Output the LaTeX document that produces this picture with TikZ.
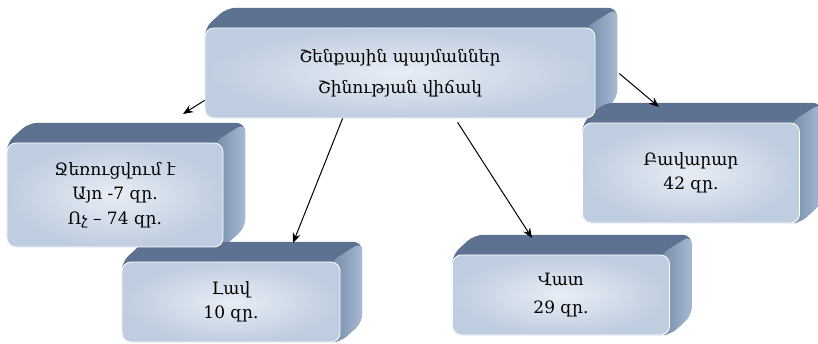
\documentclass[tikz,border=0pt]{standalone}
\usepackage{fontspec}
\setmainfont{DejaVu Serif}
\usetikzlibrary{calc,arrows.meta}
\definecolor{bevtop}{HTML}{5D7190}
\definecolor{bevsideA}{HTML}{7189A9}
\definecolor{bevsideB}{HTML}{A7BAD2}
\definecolor{faceedge}{HTML}{BFCDE0}
\definecolor{facemid}{HTML}{E8EDF5}
\tikzset{
  face/.style={rounded corners=9pt, draw=white, line width=0.8pt,
    inner color=facemid, outer color=faceedge, align=center,
    font=\fontsize{17}{24.5}\selectfont, text=black, inner sep=0pt},
  conn/.style={-{Stealth[length=10pt,width=8pt]}, line width=1pt, black},
}
\newcommand\boxbevel[1]{%
  \fill[bevtop, rounded corners=9pt] (#1.south west) -- (#1.north west) --
    ($(#1.north west)+(22,-20)$) -- ($(#1.north east)+(22,-20)$) --
    ($(#1.south east)+(22,-20)$) -- (#1.south east) -- cycle;
  \shade[left color=bevsideA, right color=bevsideB, rounded corners=9pt]
    ($(#1.north east)+(-10,0)$) -- ($(#1.north east)+(22,-20)$) --
    ($(#1.south east)+(22,-20)$) -- (#1.south east) -- ($(#1.south east)+(-10,0)$) -- cycle;
}
\begin{document}
\begin{tikzpicture}[x=1pt,y=-1pt]
\useasboundingbox (0,0) rectangle (818,344);
\path (400,73) node[minimum width=390pt, minimum height=90pt] (topn) {};
\path (115,195) node[minimum width=216pt, minimum height=104pt] (heatn) {};
\path (231,302) node[minimum width=218pt, minimum height=80pt] (goodn) {};
\path (561,295) node[minimum width=217pt, minimum height=80pt] (badn) {};
\path (691,173) node[minimum width=217pt, minimum height=100pt] (okn) {};
\boxbevel{topn}
\boxbevel{heatn}
\boxbevel{goodn}
\boxbevel{badn}
\boxbevel{okn}
\node[face, minimum width=390pt, minimum height=90pt] (top) at (400,73)
  {Շենքային պայմաններ\\[6pt]Շինության վիճակ};
\node[face, minimum width=216pt, minimum height=104pt] (heat) at (115,195)
  {Ջեռուցվում է\\Այո -7 զր.\\Ոչ – 74 զր.};
\node[face, minimum width=218pt, minimum height=80pt] (good) at (231,302)
  {Լավ\\10 զր.};
\node[face, minimum width=217pt, minimum height=80pt] (bad) at (561,295)
  {Վատ\\[3pt]29 զր.};
\node[face, minimum width=217pt, minimum height=100pt] (ok) at (691,173)
  {Բավարար\\42 զր.};
\coordinate (t1) at (183,114);
\coordinate (t2) at (293,243);
\coordinate (t3) at (532,238);
\coordinate (t4) at (659,107);
\draw[conn] ($(top.south west)+(0,-18)$) -- (t1);
\draw[conn] ($(top.south west)+(138,0)$) -- (t2);
\draw[conn] ($(top.south west)+(253,4)$) -- (t3);
\draw[conn] ($(top.north east)+(24,46)$) -- (t4);
\end{tikzpicture}
\end{document}
